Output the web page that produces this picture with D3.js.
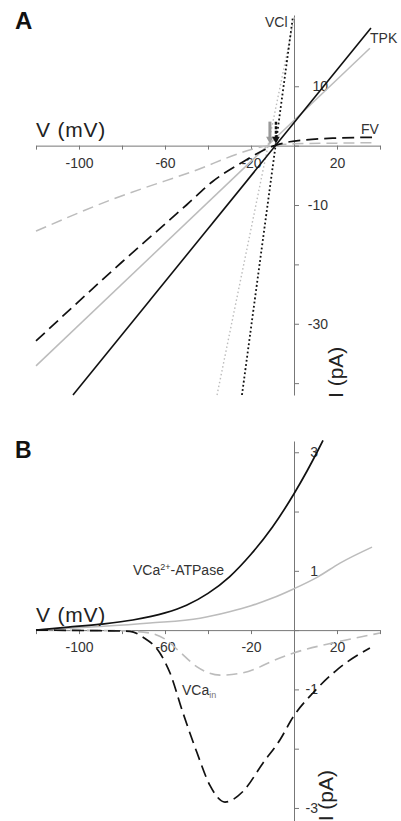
<!DOCTYPE html>
<html>
<head>
<meta charset="utf-8">
<script src="https://cdn.jsdelivr.net/npm/d3@7"></script>
<style>
  body { margin: 0; background: #fff; }
  svg { display: block; font-family: "Liberation Sans", Arial, sans-serif; }
</style>
</head>
<body>
<div id="chart"></div>
<script>
// voltage axis (shared by both panels)
const vTicks = [-120, -100, -80, -60, -40, -20, 0, 20, 40];
const vLabels = [-100, -60, -20, 20];

// panel A, current in pA
const aTicks = [-40, -30, -20, -10, 0, 10];
const aLabels = [-30, -10, 10];
const tpkBlack = [[-102.8, -42], [35.8, 19.8]];
const tpkGray = [[-120, -37.1], [35.3, 16.4]];
const fvBlack = [[-120, -32.9], [-80, -19.6], [-50, -10.0], [-37.7, -6.0], [-25, -3.0], [-9, 0], [-2, 0.65], [5, 0.95], [18, 1.25], [36.3, 1.4]];
const fvGray = [[-120, -14.4], [-85.6, -9.2], [-49.8, -4.7], [-11.5, 0], [0, 0.3], [20, 0.42], [36.3, 0.5]];
const vclBlack = [[-24.2, -42], [-0.5, 21.7]];
const vclGray = [[-35.8, -42], [0.2, 21.7]];
const reversal = [-11.2, -8.4]; // gray arrow, black arrow

// panel B, current in pA
const bTicks = [-3, -2, -1, 0, 1, 2, 3];
const bLabels = [-3, -1, 1, 3];
const atpBlack = [[-120, 0], [-105, 0.05], [-90, 0.10], [-75, 0.17], [-60, 0.29], [-50, 0.42], [-40, 0.62], [-30, 0.90], [-20, 1.28], [-10, 1.74], [0, 2.30], [6, 2.68], [10.7, 3.0], [13.5, 3.2]];
const atpGray = [[-120, 0], [-90.2, 0.06], [-67, 0.12], [-43.7, 0.20], [-30, 0.31], [-20, 0.41], [-10, 0.54], [-0.5, 0.69], [10.7, 0.89], [21.4, 1.13], [36.3, 1.40]];
const caBlack = [[-120, 0], [-90.2, -0.01], [-76.3, -0.02], [-70.2, -0.12], [-62.3, -0.39], [-57.7, -0.72], [-51.6, -1.40], [-45.1, -2.07], [-39.1, -2.62], [-32.1, -2.90], [-23.7, -2.72], [-14.4, -2.24], [-6.5, -1.85], [-0.5, -1.47], [8.8, -1.06], [20, -0.67], [35.3, -0.30]];
const caGray = [[-120, 0], [-81, -0.01], [-67, -0.05], [-60, -0.15], [-53, -0.37], [-45.1, -0.62], [-34.4, -0.76], [-25.1, -0.73], [-15.8, -0.62], [-11.2, -0.54], [-0.5, -0.39], [20, -0.20], [40, -0.05]];

const black = "#111";
const gray = "#bcbcbc";
const axisCol = "#777";

const svg = d3.select("#chart").append("svg")
    .attr("width", 401)
    .attr("height", 821);

const x = d3.scaleLinear().domain([-120, 40]).range([36, 380]);
const yA = d3.scaleLinear().domain([-42, 22]).range([395, 15]);
const yB = d3.scaleLinear().domain([-3.22, 3.19]).range([821, 441]);

function drawAxes(y, yTicks, yLabels, labelEnd) {
  const g = svg.append("g");
  g.append("g")
      .attr("transform", "translate(0," + y(0) + ")")
      .call(d3.axisBottom(x).tickValues(vTicks).tickSize(4).tickSizeOuter(0).tickPadding(8)
        .tickFormat(function(d) { return vLabels.includes(d) ? String(d) : ""; }));
  g.append("g")
      .attr("transform", "translate(" + x(0) + ",0)")
      .call(d3.axisRight(y).tickValues(yTicks).tickSize(5).tickSizeOuter(0)
        .tickFormat(function(d) { return yLabels.includes(d) ? String(d) : ""; }))
      .selectAll("text")
        .attr("text-anchor", "end")
        .attr("x", labelEnd);
  g.selectAll(".domain, .tick line").attr("stroke", axisCol);
  g.selectAll("text")
      .attr("font-family", "Liberation Sans, Arial, sans-serif")
      .attr("font-size", 14)
      .attr("fill", "#333");
  return g;
}

function drawLine(g, data, y, color, dash, width, curve) {
  const line = d3.line()
      .x(function(d) { return x(d[0]); })
      .y(function(d) { return y(d[1]); })
      .curve(curve || d3.curveLinear);
  g.append("path")
      .datum(data)
      .attr("fill", "none")
      .attr("stroke", color)
      .attr("stroke-width", width)
      .attr("stroke-dasharray", dash)
      .attr("d", line);
}

// ---------- Panel A ----------
drawAxes(yA, aTicks, aLabels, 34);
const gA = svg.append("g");
drawLine(gA, fvGray, yA, gray, "11,6", 1.5, d3.curveMonotoneX);
drawLine(gA, tpkGray, yA, gray, null, 1.5);
drawLine(gA, vclGray, yA, gray, "1.5,2.5", 1.4);
drawLine(gA, fvBlack, yA, black, "12,6", 1.7, d3.curveMonotoneX);
drawLine(gA, tpkBlack, yA, black, null, 1.6);
drawLine(gA, vclBlack, yA, black, "1.8,2.4", 1.8);

// reversal arrows
reversal.forEach(function(v, i) {
  const ax = x(v);
  const col = i === 0 ? "#999" : black;
  gA.append("line")
      .attr("x1", ax).attr("x2", ax)
      .attr("y1", yA(0) - 24).attr("y2", yA(0) - 8)
      .attr("stroke", col)
      .attr("stroke-width", i === 0 ? 3 : 2.4)
      .attr("stroke-dasharray", i === 0 ? null : "3,1.5");
  gA.append("path")
      .attr("d", "M" + (ax - 3.8) + "," + (yA(0) - 9) + "L" + (ax + 3.8) + "," + (yA(0) - 9) + "L" + ax + "," + (yA(0) - 2) + "Z")
      .attr("fill", col);
});

svg.append("text").attr("x", 15).attr("y", 29)
    .attr("font-size", 24).attr("font-weight", "bold").attr("fill", "#111").text("A");
svg.append("text").attr("x", 36).attr("y", 137)
    .attr("font-size", 21).attr("letter-spacing", 0.8).attr("fill", "#222").text("V (mV)");
svg.append("text")
    .attr("transform", "translate(343,398) rotate(-90)")
    .attr("font-size", 21).attr("fill", "#222").text("I (pA)");
svg.append("text").attr("x", 265).attr("y", 27).attr("font-size", 14).attr("fill", "#333").text("VCl");
svg.append("text").attr("x", 370).attr("y", 43).attr("font-size", 14).attr("fill", "#333").text("TPK");
svg.append("text").attr("x", 361).attr("y", 134).attr("font-size", 14).attr("fill", "#333").text("FV");

// ---------- Panel B ----------
drawAxes(yB, bTicks, bLabels, 24);
const gB = svg.append("g");
drawLine(gB, caGray, yB, gray, "11,6", 1.6, d3.curveMonotoneX);
drawLine(gB, atpGray, yB, gray, null, 1.6, d3.curveMonotoneX);
drawLine(gB, caBlack, yB, black, "12,6", 1.7, d3.curveMonotoneX);
drawLine(gB, atpBlack, yB, black, null, 1.7, d3.curveMonotoneX);

svg.append("text").attr("x", 15).attr("y", 458)
    .attr("font-size", 23).attr("font-weight", "bold").attr("fill", "#111").text("B");
svg.append("text").attr("x", 36).attr("y", 622)
    .attr("font-size", 21).attr("letter-spacing", 0.8).attr("fill", "#222").text("V (mV)");
svg.append("text")
    .attr("transform", "translate(333,770) rotate(-90)")
    .attr("text-anchor", "end")
    .attr("font-size", 21).attr("fill", "#222").text("I (pA)");

const atpLabel = svg.append("text").attr("x", 133).attr("y", 575).attr("font-size", 14).attr("fill", "#333");
atpLabel.append("tspan").text("VCa");
atpLabel.append("tspan").attr("font-size", 9).attr("dy", -5).text("2+");
atpLabel.append("tspan").attr("dy", 5).text("-ATPase");

const caLabel = svg.append("text").attr("x", 182).attr("y", 695).attr("font-size", 14).attr("fill", "#333");
caLabel.append("tspan").text("VCa");
caLabel.append("tspan").attr("font-size", 9).attr("dy", 3).attr("fill", "#777").text("in");
</script>
</body>
</html>
